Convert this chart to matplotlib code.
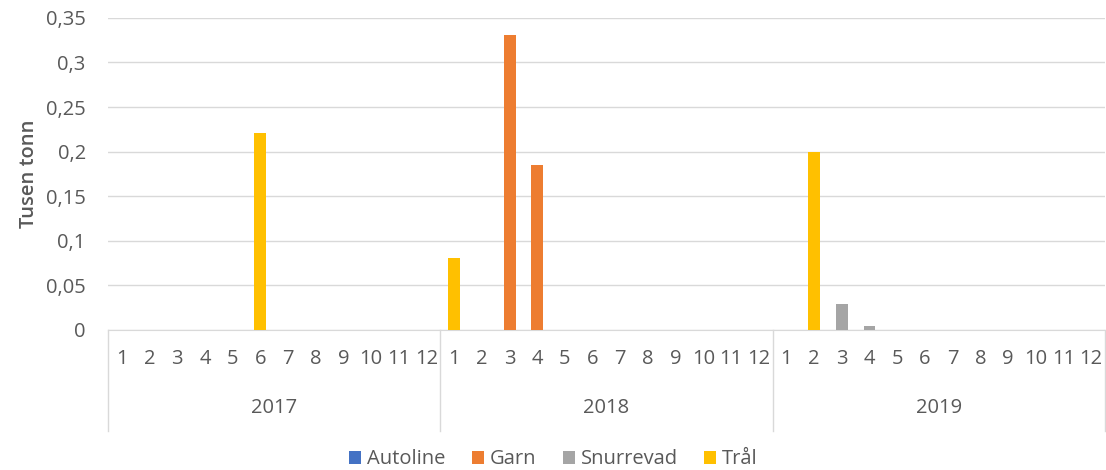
import matplotlib.pyplot as plt
import numpy as np

plt.rcParams['font.family'] = ['Open Sans', 'DejaVu Sans']

years = ["2017", "2018", "2019"]
months = [str(m) for m in range(1, 13)]

# verdier per måned (tusen tonn), 36 måneder
autoline = [0.0] * 36
garn = [0.0] * 36
garn[12 + 2] = 0.331
garn[12 + 3] = 0.185
snurrevad = [0.0] * 36
snurrevad[24 + 2] = 0.029
snurrevad[24 + 3] = 0.004
tral = [0.0] * 36
tral[5] = 0.221
tral[12 + 0] = 0.081
tral[24 + 1] = 0.200

series = [("Autoline", autoline, "#4472c4"),
          ("Garn", garn, "#ed7d31"),
          ("Snurrevad", snurrevad, "#a5a5a5"),
          ("Trål", tral, "#ffc000")]

grey = "#595959"
fs = 14.5
fig = plt.figure(figsize=(11.06, 4.70), dpi=100)
ax = fig.add_axes([0.0977, 0.298, 0.9013, 0.664])

x = np.arange(36)
bottom = np.zeros(36)
for name, vals, col in series:
    vals = np.array(vals)
    ax.bar(x, vals, width=0.43, bottom=bottom, color=col, label=name, zorder=3)
    bottom += vals

ax.set_xlim(-0.5, 35.5)
ax.set_ylim(0, 0.35)
yt = np.arange(0, 0.351, 0.05)
ax.set_yticks(yt)
ax.set_yticklabels(["0" if v == 0 else ("%g" % round(v, 2)).replace(".", ",") for v in yt],
                   fontsize=fs, color=grey)
ax.yaxis.grid(True, color="#d9d9d9", linewidth=1, zorder=0)
ax.tick_params(axis="y", length=0, pad=16)
for s in ["top", "right", "left"]:
    ax.spines[s].set_visible(False)
ax.spines["bottom"].set_color("#d9d9d9")

ax.set_xticks(x)
ax.set_xticklabels(months * 3, fontsize=fs, color=grey)
ax.tick_params(axis="x", length=0, pad=14)

ax.set_ylabel("Tusen tonn", fontsize=fs, color=grey, fontweight="semibold", labelpad=5)

# års-etiketter og skillelinjer
for i, yr in enumerate(years):
    ax.text(i * 12 + 5.5, -0.087, yr, ha="center", va="center",
            fontsize=fs, color=grey, clip_on=False)
for b in [0, 12, 24, 36]:
    ax.plot([b - 0.5, b - 0.5], [0, -0.113], color="#d9d9d9", linewidth=1, clip_on=False)

ax.legend(loc="center", bbox_to_anchor=(0.447, -0.415), ncol=4, frameon=False,
          fontsize=fs, handlelength=0.6, handleheight=0.6, handletextpad=0.3,
          columnspacing=1.3, labelcolor=grey)

fig.savefig("out.png", dpi=100)
